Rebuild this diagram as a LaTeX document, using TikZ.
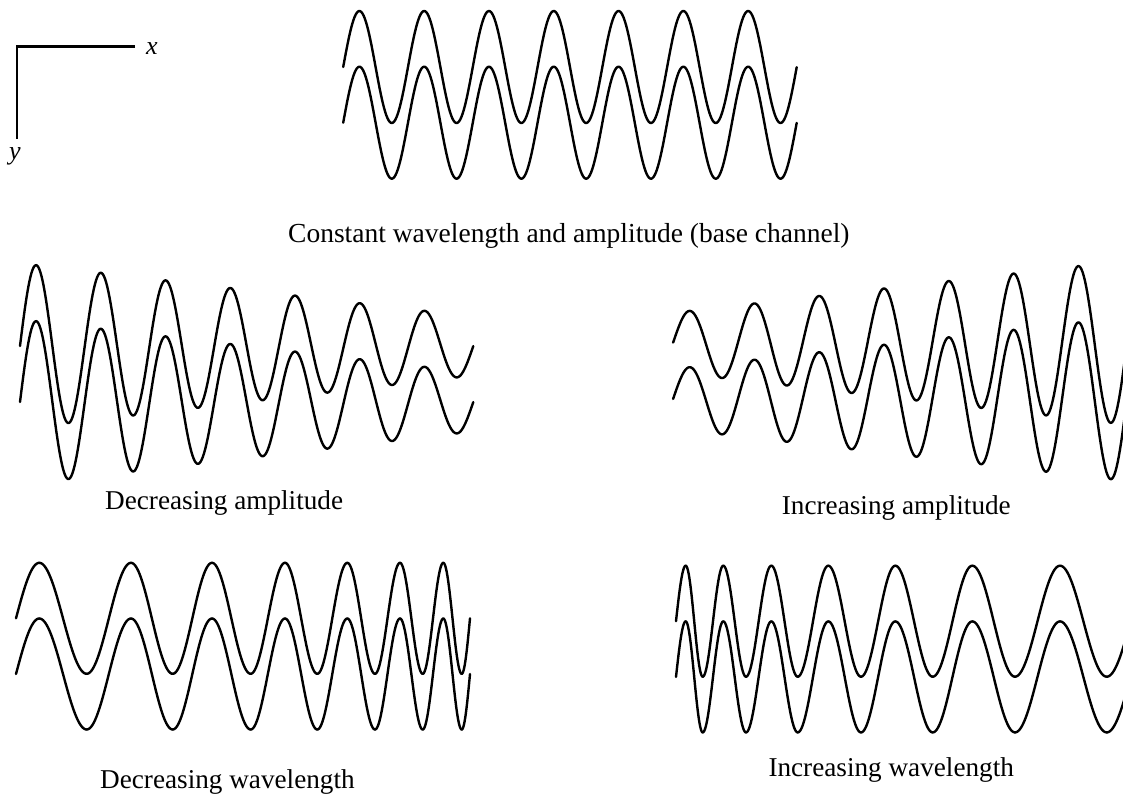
\documentclass[tikz,border=0pt]{standalone}
\usepackage{fontspec}
\setmainfont{Liberation Serif}
\begin{document}
\begin{tikzpicture}[x=1pt,y=-1pt,
  wave/.style={line width=2.4pt, line cap=round, line join=round},
  axisline/.style={line width=2.9pt},
  caption/.style={anchor=base west, inner sep=0pt, font=\fontsize{27.2}{32}\selectfont},
  axlabel/.style={anchor=base west, inner sep=0pt, font=\fontsize{26}{30}\selectfont\itshape}]
\useasboundingbox (0,0) rectangle (1123,793);
\clip (0,0) rectangle (1123,793);

% axes
\coordinate (O) at (17,46.7);
\coordinate (xend) at (135,46.7);
\coordinate (yend) at (17,139.3);
\draw[axisline] (xend) -- (O) -- (yend);
\node[axlabel] (xlab) at (146,54) {x};
\node[axlabel] (ylab) at (9,159) {y};

% constant wavelength and amplitude
\foreach \cy in {67,122.7}
  \draw[wave] plot[domain=343.2:796.7,samples=400] (\x,{\cy-56*sin((\x-343.2)/64.79*360)});
\node[caption, font=\fontsize{27.5}{32}\selectfont] (cap0) at (288,242) {Constant wavelength and amplitude (base channel)};

% decreasing amplitude
\foreach \cy in {346,402}
  \draw[wave] plot[domain=20:473.3,samples=400] (\x,{\cy-(78.9-0.1176*(\x-53))*sin((\x-20)/64.76*360)});
\node[caption] (cap1) at (105,509.3) {Decreasing amplitude};

% increasing amplitude
\foreach \cy in {342.6,398.9}
  \draw[wave] plot[domain=673.1:1126.9,samples=400] (\x,{\cy-(33.5+0.1153*(\x-705))*sin((\x-673.1)/64.83*360)});
\node[caption] (cap2) at (781.7,514.3) {Increasing amplitude};

% decreasing wavelength
\def\declist{16/39.3/0/90, 39.3/86.7/90/270, 86.7/131/270/450, 131/172.7/450/630, 172.7/212/630/810, 212/250.7/810/990, 250.7/285/990/1170, 285/317.3/1170/1350, 317.3/347.3/1350/1530, 347.3/375/1530/1710, 375/400/1710/1890, 400/422.7/1890/2070, 422.7/443.3/2070/2250, 443.3/461.7/2250/2430, 461.7/470/2430/2520}
\foreach \cy in {618.3,674}{
  \foreach \xa/\xb/\pa/\pb in \declist {
    \draw[wave] plot[domain=\xa:\xb,samples=40] (\x,{\cy-55.5*sin(\pa+(\x-\xa)/(\xb-\xa)*(\pb-\pa))});
  }
}
\node[caption] (cap3) at (100,788.3) {Decreasing wavelength};

% increasing wavelength
\def\inclist{676/685.7/0/90, 685.7/702.7/90/270, 702.7/723.3/270/450, 723.3/746/450/630, 746/771.3/630/810, 771.3/797.7/810/990, 797.7/828.3/990/1170, 828.3/861/1170/1350, 861/895.3/1350/1530, 895.3/932.7/1530/1710, 932.7/972.3/1710/1890, 972.3/1015/1890/2070, 1015/1060/2070/2250, 1060/1106.7/2250/2430, 1106.7/1130.7/2430/2520}
\foreach \cy in {621.2,676.9}{
  \foreach \xa/\xb/\pa/\pb in \inclist {
    \draw[wave] plot[domain=\xa:\xb,samples=40] (\x,{\cy-55.5*sin(\pa+(\x-\xa)/(\xb-\xa)*(\pb-\pa))});
  }
}
\node[caption] (cap4) at (768.3,776) {Increasing wavelength};
\end{tikzpicture}
\end{document}
